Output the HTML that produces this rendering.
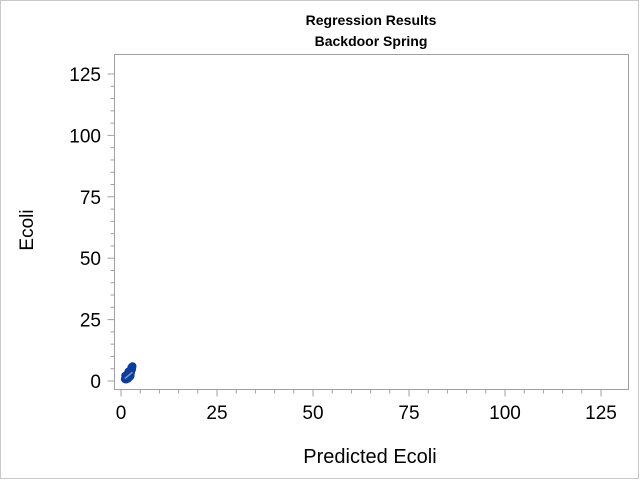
<!DOCTYPE html>
<html><head><meta charset="utf-8"><style>
body{margin:0;background:#fff;}
svg text{font-family:"Liberation Sans",Arial,sans-serif;}
</style></head><body>
<svg width="640" height="480" viewBox="0 0 640 480" xmlns="http://www.w3.org/2000/svg">
<rect x="0.5" y="0.5" width="638" height="478" fill="#fff" stroke="#c8c8c8"/>
<text x="371" y="25" text-anchor="middle" font-size="14" font-weight="bold">Regression Results</text>
<text x="371" y="46" text-anchor="middle" font-size="14" font-weight="bold">Backdoor Spring</text>
<rect x="114.5" y="54.5" width="514" height="335" fill="#fff" stroke="#a0a0a0"/>
<g id="axes"></g>
<g id="marks"></g>
<text x="370" y="463" text-anchor="middle" font-size="20">Predicted Ecoli</text>
<text transform="translate(33,230) rotate(-90)" text-anchor="middle" font-size="19">Ecoli</text>
</svg>
<script>
const xTicks=[0,25,50,75,100,125];
const yTicks=[0,25,50,75,100,125];
const predX=[1.0,1.2,1.4,1.6,1.8,2.0,2.2,2.4,2.6,2.8,3.0,1.3,1.7,2.1,2.5,2.9,1.1,1.9,2.3,2.7];
const obsY=[0.8,1.5,2.0,1.2,0.9,2.5,3.0,1.8,3.5,4.5,6.0,0.6,1.0,1.5,2.2,5.0,2.2,3.8,4.2,5.5];
const fitX=[1.0,3.0];
const fitY=[1.0,3.6];
const NS="http://www.w3.org/2000/svg";
const xs=v=>121+v*3.84;
const ys=v=>381-v*2.456;
const axes=document.getElementById('axes');
const marks=document.getElementById('marks');
function mk(tag,attrs,parent){const e=document.createElementNS(NS,tag);for(const k in attrs)e.setAttribute(k,attrs[k]);parent.appendChild(e);return e;}
for(let v=0;v<=125;v+=5){
  const major=v%25===0;
  const t=mk('line',{x1:xs(v),x2:xs(v),y1:389.5,y2:389.5+(major?7:4),stroke:'#a0a0a0'},axes);
  
  
  const u=mk('line',{y1:ys(v),y2:ys(v),x1:114.5,x2:114.5-(major?7:4),stroke:'#a0a0a0'},axes);
  
  
}
xTicks.forEach(v=>{const t=mk('text',{x:xs(v),y:419,'text-anchor':'middle','font-size':19},axes);t.textContent=v;
  
  });
yTicks.forEach(v=>{const t=mk('text',{x:101,y:ys(v)+7,'text-anchor':'end','font-size':19},axes);t.textContent=v;
  
  });
predX.forEach((v,i)=>{const c=mk('circle',{cx:xs(v),cy:ys(obsY[i]),r:4,fill:'#0b3d9c'},marks);
  
  });
const l=mk('line',{x1:xs(fitX[0]),y1:ys(fitY[0]),x2:xs(fitX[1]),y2:ys(fitY[1]),stroke:'#8a96b4','stroke-width':1.5},marks);


</script>
</body></html>
